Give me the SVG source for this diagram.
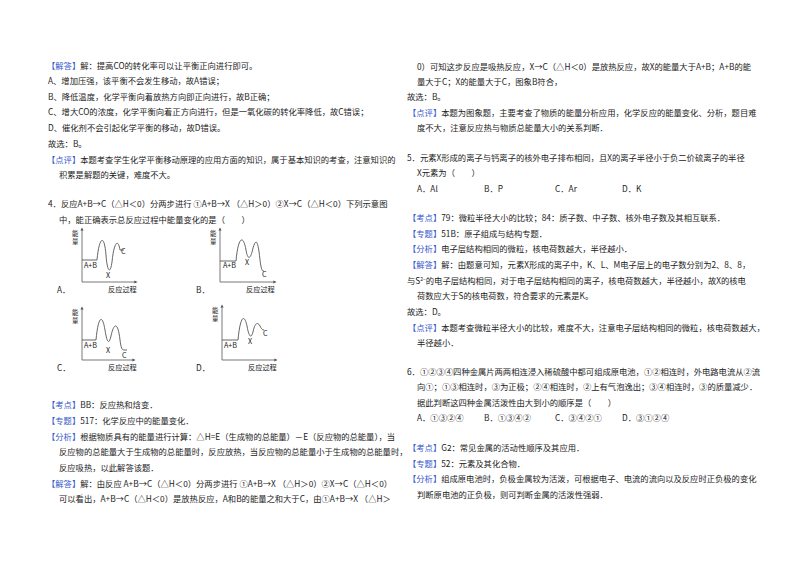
<svg xmlns="http://www.w3.org/2000/svg" width="800" height="565" viewBox="0 0 800 565">
<style>
text{font-family:"Noto Sans CJK SC","Liberation Serif",sans-serif;font-size:8.3px;fill:#222}
.b{fill:#3558cc}
.ax{fill:none;stroke:#555;stroke-width:0.8}
.cv{fill:none;stroke:#555;stroke-width:0.9}
.s{font-size:7.2px}
.v{font-size:6.4px}
</style>
<defs><marker id="ar" markerWidth="4" markerHeight="4" refX="2" refY="2" orient="auto"><path d="M0,0L4,2L0,4z" fill="#555"/></marker></defs>
<rect width="800" height="565" fill="#fff"/>
<g id="left-top">
<text x="47" y="69"><tspan class="b">【解答】</tspan>解：提高CO的转化率可以让平衡正向进行即可。</text>
<text x="48" y="84">A、增加压强，该平衡不会发生移动，故A错误；</text>
<text x="48" y="100">B、降低温度，化学平衡向着放热方向即正向进行，故B正确；</text>
<text x="48" y="115">C、增大CO的浓度，化学平衡向着正方向进行，但是一氧化碳的转化率降低，故C错误；</text>
<text x="48" y="131">D、催化剂不会引起化学平衡的移动，故D错误。</text>
<text x="48" y="147">故选：B。</text>
<text x="47" y="163"><tspan class="b">【点评】</tspan>本题考查学生化学平衡移动原理的应用方面的知识，属于基本知识的考查，注意知识的</text>
<text x="59" y="178">积累是解题的关键，难度不大。</text>
<text x="48" y="207">4．反应A+B→C（△H＜0）分两步进行 ①A+B→X （△H＞0）②X→C（△H＜0）下列示意图</text>
<text x="59" y="223">中，能正确表示总反应过程中能量变化的是（　　）</text>
</g>
<g id="graphA">
<path class="ax" d="M82,282H136" marker-end="url(#ar)"/>
<path class="ax" d="M82,282V229" marker-end="url(#ar)"/>
<path class="cv" d="M82,260H97C99,238 104,232 106,255C107,270 110,276 112,262C114,242 118,238 120,250H124"/>
<text class="v" x="72" y="236">能</text><text class="v" x="72" y="244">量</text>
<text class="s" x="84" y="268">A+B</text><text class="s" x="106" y="278">X</text><text class="s" x="121" y="254">C</text>
<text x="57" y="293">A．</text><text class="s" x="108" y="292">反应过程</text>
</g>
<g id="graphB">
<path class="ax" d="M220,282H275" marker-end="url(#ar)"/>
<path class="ax" d="M220,282V229" marker-end="url(#ar)"/>
<path class="cv" d="M220,261H236C238,238 243,233 246,250C248,262 251,258 253,248C256,238 258,240 260,260C261,268 262,271 263,271H264"/>
<text class="v" x="210" y="236">能</text><text class="v" x="210" y="244">量</text>
<text class="s" x="223" y="268">A+B</text><text class="s" x="245" y="265">X</text><text class="s" x="262" y="277">C</text>
<text x="196" y="293">B．</text><text class="s" x="246" y="292">反应过程</text>
</g>
<g id="graphC">
<path class="ax" d="M82,360H134" marker-end="url(#ar)"/>
<path class="ax" d="M82,360V308" marker-end="url(#ar)"/>
<path class="cv" d="M82,340H96C98,318 102,312 105,330C107,343 109,345 111,336C114,322 118,322 120,340C121,348 122,350 124,350H127"/>
<text class="v" x="72" y="315">能</text><text class="v" x="72" y="323">量</text>
<text class="s" x="84" y="348">A+B</text><text class="s" x="106" y="353">X</text><text class="s" x="122" y="358">C</text>
<text x="57" y="371">C．</text><text class="s" x="108" y="370">反应过程</text>
</g>
<g id="graphD">
<path class="ax" d="M222,360H276" marker-end="url(#ar)"/>
<path class="ax" d="M222,360V306" marker-end="url(#ar)"/>
<path class="cv" d="M222,340H238C240,318 244,312 247,326C249,337 251,339 253,332C255,322 258,322 260,326C261,328 262,330 264,330"/>
<text class="v" x="212" y="313">能</text><text class="v" x="212" y="321">量</text>
<text class="s" x="224" y="348">A+B</text><text class="s" x="248" y="344">X</text><text class="s" x="263" y="336">C</text>
<text x="196" y="371">D．</text><text class="s" x="248" y="370">反应过程</text>
</g>
<g id="left-bottom">
<text x="47" y="408"><tspan class="b">【考点】</tspan>BB：反应热和焓变．</text>
<text x="47" y="424"><tspan class="b">【专题】</tspan>517：化学反应中的能量变化．</text>
<text x="47" y="440"><tspan class="b">【分析】</tspan>根据物质具有的能量进行计算：△H=E（生成物的总能量）－E（反应物的总能量），当</text>
<text x="59" y="455">反应物的总能量大于生成物的总能量时，反应放热，当反应物的总能量小于生成物的总能量时，</text>
<text x="59" y="471">反应吸热，以此解答该题．</text>
<text x="47" y="487"><tspan class="b">【解答】</tspan>解：由反应 A+B→C（△H＜0）分两步进行 ①A+B→X （△H＞0）②X→C（△H＜0）</text>
<text x="59" y="502">可以看出，A+B→C（△H＜0）是放热反应，A和B的能量之和大于C，由①A+B→X （△H＞</text>
</g>
<g id="right-top">
<text x="417" y="70">0）可知这步反应是吸热反应，X→C（△H＜0）是放热反应，故X的能量大于A+B；A+B的能</text>
<text x="417" y="85">量大于C；X的能量大于C，图象B符合，</text>
<text x="407" y="100">故选：B。</text>
<text x="408" y="116"><tspan class="b">【点评】</tspan>本题为图象题，主要考查了物质的能量分析应用，化学反应的能量变化、分析，题目难</text>
<text x="417" y="131">度不大，注意反应热与物质总能量大小的关系判断．</text>
<text x="407" y="161">5．元素X形成的离子与钙离子的核外电子排布相同，且X的离子半径小于负二价硫离子的半径</text>
<text x="417" y="176">X元素为（　　）</text>
<text x="417" y="192">A．Al</text><text x="484" y="192">B．P</text><text x="555" y="192">C．Ar</text><text x="622" y="192">D．K</text>
</g>
<g id="right-mid">
<text x="408" y="221"><tspan class="b">【考点】</tspan>79：微粒半径大小的比较；84：质子数、中子数、核外电子数及其相互联系．</text>
<text x="408" y="237"><tspan class="b">【专题】</tspan>51B：原子组成与结构专题．</text>
<text x="408" y="252"><tspan class="b">【分析】</tspan>电子层结构相同的微粒，核电荷数越大，半径越小．</text>
<text x="408" y="268"><tspan class="b">【解答】</tspan>解：由题意可知，元素X形成的离子中，K、L、M电子层上的电子数分别为2、8、8，</text>
<text x="407" y="284">与S<tspan font-size="5" dy="-3">2−</tspan><tspan dy="3">的电子层结构相同，对于电子层结构相同的离子，核电荷数越大，半径越小，故X的核电</tspan></text>
<text x="417" y="299">荷数应大于S的核电荷数，符合要求的元素是K。</text>
<text x="407" y="315">故选：D。</text>
<text x="408" y="331"><tspan class="b">【点评】</tspan>本题考查微粒半径大小的比较，难度不大，注意电子层结构相同的微粒，核电荷数越大，</text>
<text x="417" y="346">半径越小．</text>
</g>
<g id="right-bottom">
<text x="407" y="375">6．①②③④四种金属片两两相连浸入稀硫酸中都可组成原电池，①②相连时，外电路电流从②流</text>
<text x="417" y="390">向①；①③相连时，③为正极；②④相连时，②上有气泡逸出；③④相连时，③的质量减少．</text>
<text x="417" y="406">据此判断这四种金属活泼性由大到小的顺序是（　　）</text>
<text x="417" y="421">A．①③②④</text><text x="484" y="421">B．①③④②</text><text x="555" y="421">C．③④②①</text><text x="622" y="421">D．③①②④</text>
<text x="408" y="451"><tspan class="b">【考点】</tspan>G2：常见金属的活动性顺序及其应用．</text>
<text x="408" y="467"><tspan class="b">【专题】</tspan>52：元素及其化合物．</text>
<text x="408" y="482"><tspan class="b">【分析】</tspan>组成原电池时，负极金属较为活泼，可根据电子、电流的流向以及反应时正负极的变化</text>
<text x="417" y="498">判断原电池的正负极，则可判断金属的活泼性强弱．</text>
</g>
</svg>
